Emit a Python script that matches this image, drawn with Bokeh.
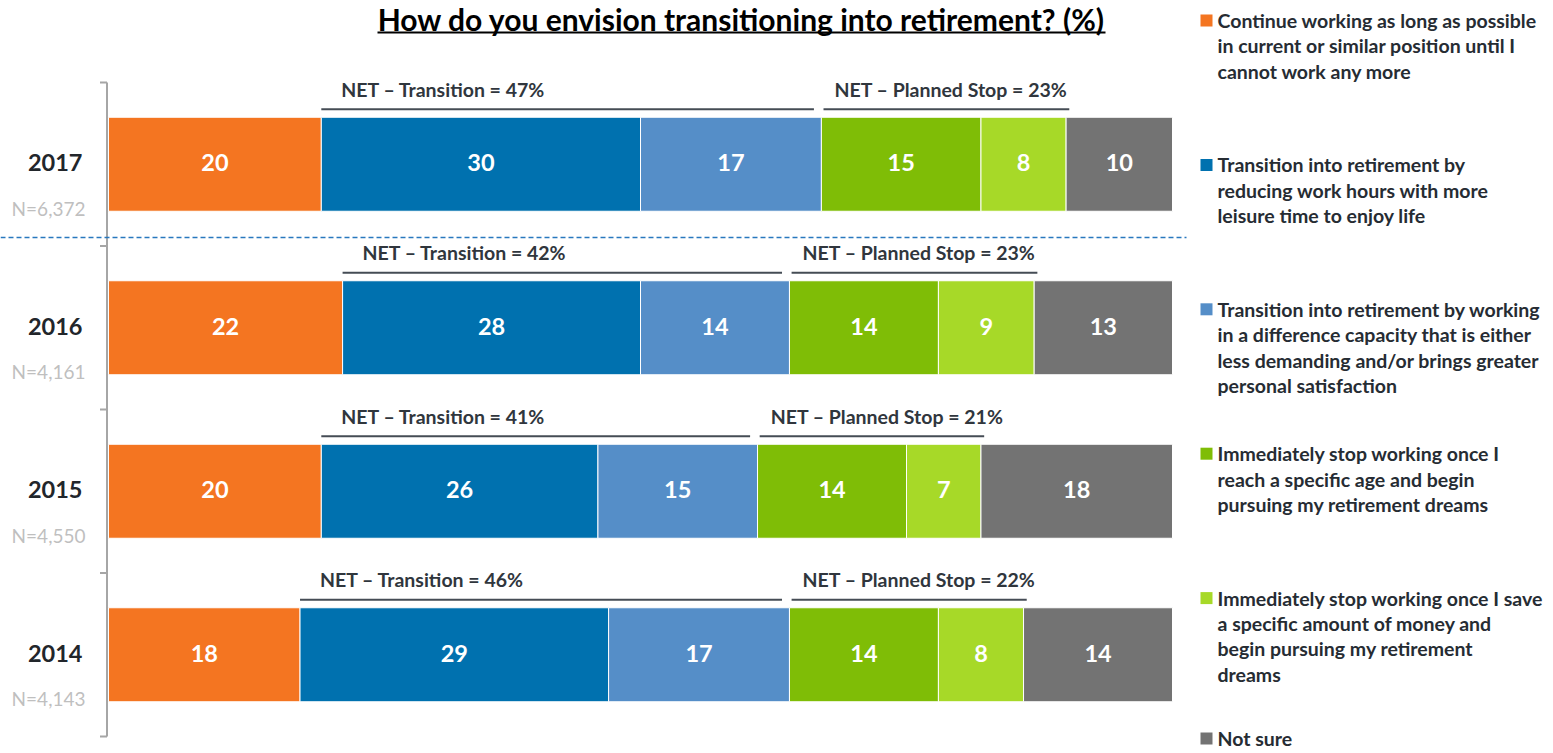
from bokeh.plotting import figure
from bokeh.models import Range1d, ColumnDataSource
from bokeh.embed import file_html
from bokeh.resources import INLINE
from bokeh.core.properties import value

# ---------------- data ----------------
years = ["2017", "2016", "2015", "2014"]
sample_sizes = ["N=6,372", "N=4,161", "N=4,550", "N=4,143"]

continue_working = [20, 22, 20, 18]
reduce_hours = [30, 28, 26, 29]
different_capacity = [17, 14, 15, 17]
stop_at_age = [15, 14, 14, 14]
stop_at_savings = [8, 9, 7, 8]
not_sure = [10, 13, 18, 14]

net_transition = [47, 42, 41, 46]
net_planned_stop = [23, 23, 21, 22]

title_text = "How do you envision transitioning into retirement? (%)"

legend_labels = [
    ["Continue working as long as possible", "in current or similar position until I", "cannot work any more"],
    ["Transition into retirement by", "reducing work hours with more", "leisure time to enjoy life"],
    ["Transition into retirement by working", "in a difference capacity that is either",
     "less demanding and/or brings greater", "personal satisfaction"],
    ["Immediately stop working once I", "reach a specific age and begin", "pursuing my retirement dreams"],
    ["Immediately stop working once I save", "a specific amount of money and",
     "begin pursuing my retirement", "dreams"],
    ["Not sure"],
]

# ---------------- style ----------------
colors = ["#F47521", "#0071AF", "#558EC8", "#7FBD06", "#A7D928", "#737373"]
FONT = "Lato"
W, H = 1553, 753
PXX = 10.64     # px per percent
PXY = 163.5     # px per row
# page px -> data
def X(px):
    return (px - 108) / PXX
def Y(py):
    return 4 - (py - 82) / PXY

p = figure(width=W, height=H, output_backend="svg", toolbar_location=None,
           x_range=Range1d(X(0), X(W)), y_range=Range1d(Y(H), Y(0)),
           x_axis_location=None, y_axis_location=None, min_border=0,
           outline_line_color=None, background_fill_color="white",
           border_fill_color="white")
p.grid.visible = False

keys = ["s0", "s1", "s2", "s3", "s4", "s5"]
series = [continue_working, reduce_hours, different_capacity, stop_at_age, stop_at_savings, not_sure]
row_y = [3.5 - i for i in range(len(years))]
data = {"y": row_y}
for k, s in zip(keys, series):
    data[k] = s
src = ColumnDataSource(data)
bar_h = 94 / PXY
p.hbar_stack(keys, y="y", height=bar_h, color=colors, line_color="white",
             line_width=1, source=src)

# value labels
vx, vy, vt = [], [], []
for i in range(len(years)):
    cum = 0
    for s in series:
        v = s[i]
        vx.append(cum + v / 2)
        vy.append(row_y[i] + 1.5 / PXY)
        vt.append(str(v))
        cum += v
p.text(x=vx, y=vy, text=vt, text_color="white", text_font=value(FONT),
       text_font_style="bold", text_font_size="23.5px", text_align="center",
       text_baseline="middle")

# NET brackets
lx0, lx1, ly, tx, ty, tt = [], [], [], [], [], []
for i in range(len(years)):
    c1 = continue_working[i]
    c3 = c1 + reduce_hours[i] + different_capacity[i]
    c5 = c3 + stop_at_age[i] + stop_at_savings[i]
    yl = row_y[i] + bar_h / 2 + 8 / PXY
    lx0 += [c1, c3 + 0.2]
    lx1 += [c3 - 0.7, c5 + 0.3]
    ly += [yl, yl]
    tx += [c1 + 20 / PXX, c3 + 0.2 + 11 / PXX]
    ty += [yl + 20 / PXY, yl + 20 / PXY]
    tt += ["NET \u2013 Transition = %d%%" % net_transition[i],
           "NET \u2013 Planned Stop = %d%%" % net_planned_stop[i]]
p.segment(x0=lx0, y0=ly, x1=lx1, y1=ly, line_color="#454c55", line_width=2)
p.text(x=tx, y=ty, text=tt, text_color="#30363d", text_font=value(FONT),
       text_font_style="bold", text_font_size="19.5px", text_align="left",
       text_baseline="middle")

# left axis line with ticks at row boundaries
ax = -1.5 / PXX
p.segment(x0=[ax], y0=[0], x1=[ax], y1=[4], line_color="#a6a6a6", line_width=2)
p.segment(x0=[ax - 7 / PXX] * 5, y0=[0, 1, 2, 3, 4], x1=[ax] * 5, y1=[0, 1, 2, 3, 4],
          line_color="#a6a6a6", line_width=2)

# year + sample labels
p.text(x=[X(82)] * 4, y=[r + 1.5 / PXY for r in row_y], text=years,
       text_color="#22262b", text_font=value(FONT), text_font_style="bold",
       text_font_size="23.5px", text_align="right", text_baseline="middle")
p.text(x=[X(85)] * 4, y=[r - 44 / PXY for r in row_y], text=sample_sizes,
       text_color="#bfbfbf", text_font=value(FONT), text_font_size="19px",
       text_align="right", text_baseline="middle")

# dashed separator between 2017 and 2016
p.segment(x0=[X(0)], y0=[Y(237)], x1=[X(1186)], y1=[Y(237)], line_color="#2878BE",
          line_width=1.6, line_dash="5 3")

# title (underlined)
p.text(x=[X(741)], y=[Y(18)], text=[title_text], text_color="black",
       text_font=value(FONT), text_font_style="bold", text_font_size="30px",
       text_align="center", text_baseline="middle")
p.segment(x0=[X(377)], y0=[Y(32)], x1=[X(1105)], y1=[Y(32)], line_color="black",
          line_width=2)

# legend
sq_x, sq_y, sq_c = [], [], []
lg_x, lg_y, lg_t = [], [], []
for i, lines in enumerate(legend_labels):
    top = min(20 + 144.4 * i, H - 15)
    sq_x.append(X(1206))
    sq_y.append(Y(top))
    sq_c.append(colors[i])
    for j, line in enumerate(lines):
        lg_x.append(X(1217))
        lg_y.append(Y(top + 25.4 * j))
        lg_t.append(line)
p.scatter(x=sq_x, y=sq_y, marker="square", size=12, color=sq_c, line_color=None)
p.text(x=lg_x, y=lg_y, text=lg_t, text_color="#262c33", text_font=value(FONT),
       text_font_style="bold", text_font_size="19.5px", text_align="left",
       text_baseline="middle")

open("out.html", "w").write(file_html(p, INLINE))
